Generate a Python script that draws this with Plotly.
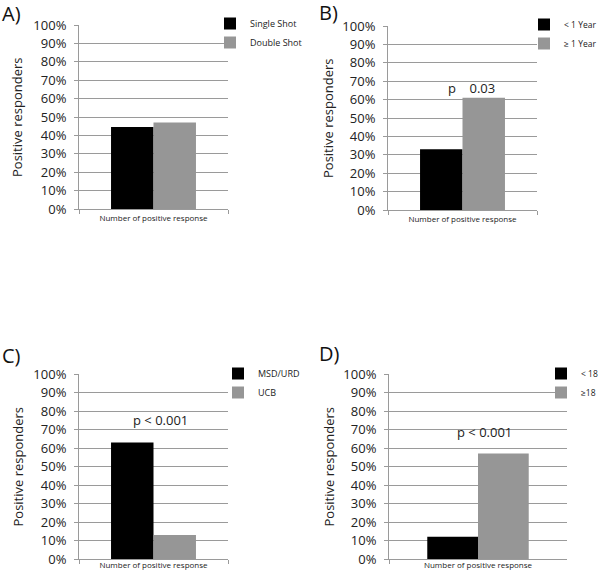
import plotly.graph_objects as go

category = ["Number of positive response"]

panel_labels = ["A)", "B)", "C)", "D)"]
series_names = [
    ["Single Shot", "Double Shot"],
    ["< 1 Year", "≥ 1 Year"],
    ["MSD/URD", "UCB"],
    ["< 18", "≥18"],
]
first_values = [0.445, 0.33, 0.63, 0.12]
second_values = [0.47, 0.61, 0.13, 0.57]
p_texts = [None, "p    0.03", "p < 0.001", "p < 0.001"]
p_levels = [None, 0.665, 0.75, 0.685]

y_tick_vals = [i / 10 for i in range(11)]
y_tick_text = [f"{i*10}%" for i in range(11)]

W, H = 600, 573

# pixel layout for each panel: (x0, x1, ytop, ybottom)
boxes = [(79, 228, 25, 209), (388, 537, 26, 210), (79, 228, 374, 559), (389, 567, 374, 559)]
label_pos = [(0, 14), (317, 12), (0, 355), (317, 353)]
ytitle_x = [17, 328, 17, 328]
legend_pos = [(210, 9), (524, 10), (218, 359), (541, 359)]
legend_font = [9, 8.5, 9, 8.5]
p_shift = [0, 9, 7, 6]

FONT = "Open Sans"
BLACK = "#000000"
GRAY = "#969696"
AXIS = "#9a9a9a"

fig = go.Figure()
layout = dict(
    width=W, height=H,
    margin=dict(l=0, r=0, t=0, b=0, autoexpand=False),
    paper_bgcolor="white", plot_bgcolor="white",
    barmode="group", bargap=0.43, bargroupgap=0,
    font=dict(family=FONT, color="#222222"),
    annotations=[],
)

for i in range(4):
    ax = "" if i == 0 else str(i + 1)
    lg = "legend" if i == 0 else f"legend{i+1}"
    x0, x1, yt, yb = boxes[i]
    fig.add_trace(go.Bar(x=category, y=[first_values[i]], name=series_names[i][0],
                         marker=dict(color=BLACK, line=dict(width=0)),
                         xaxis="x" + ax, yaxis="y" + ax, legend=lg))
    fig.add_trace(go.Bar(x=category, y=[second_values[i]], name=series_names[i][1],
                         marker=dict(color=GRAY, line=dict(width=0)),
                         xaxis="x" + ax, yaxis="y" + ax, legend=lg))
    layout["xaxis" + ax] = dict(
        domain=[x0 / W, x1 / W], anchor="y" + ax,
        showline=True, linecolor=AXIS, linewidth=1,
        ticks="outside", tickson="boundaries", ticklen=4, tickcolor=AXIS,
        ticklabelstandoff=(1 if i < 2 else -2),
        tickfont=dict(size=8, family=FONT, color="#222222"),
        showgrid=False, zeroline=False, fixedrange=True,
    )
    layout["yaxis" + ax] = dict(
        domain=[1 - yb / H, 1 - yt / H], anchor="x" + ax,
        range=[0, 1], tickvals=y_tick_vals, ticktext=y_tick_text,
        showgrid=True, gridcolor=AXIS, gridwidth=1,
        showline=True, linecolor=AXIS, linewidth=1,
        zeroline=False, ticks="outside", ticklen=4, tickcolor=AXIS,
        ticklabelstandoff=5,
        tickfont=dict(size=13, family=FONT, color="#222222"),
        fixedrange=True,
    )
    lx, ly = legend_pos[i]
    layout[lg] = dict(
        x=lx / W, y=1 - ly / H, xanchor="left", yanchor="top",
        xref="paper", yref="paper",
        font=dict(size=legend_font[i], family=FONT, color="#222222"),
        bgcolor="rgba(0,0,0,0)", borderwidth=0, itemwidth=30,
        tracegroupgap=0,
    )
    px, py = label_pos[i]
    layout["annotations"].append(dict(
        text=panel_labels[i], x=px / W, y=1 - py / H, xref="paper", yref="paper",
        xanchor="left", yanchor="middle", showarrow=False,
        font=dict(size=20, family=FONT, color="#111111")))
    cy = (yt + yb) / 2
    layout["annotations"].append(dict(
        text="Positive responders", x=ytitle_x[i] / W, y=1 - cy / H,
        xref="paper", yref="paper", textangle=-90, showarrow=False,
        xanchor="center", yanchor="middle",
        font=dict(size=13, family=FONT, color="#222222")))
    if p_texts[i]:
        layout["annotations"].append(dict(
            text=p_texts[i], x=category[0], y=p_levels[i],
            xref="x" + ax, yref="y" + ax, showarrow=False,
            xanchor="center", yanchor="middle", xshift=p_shift[i],
            font=dict(size=13, family=FONT, color="#222222")))

fig.update_layout(**layout)
fig.write_html("out.html", config={"displayModeBar": False},
               post_script="document.body.style.margin='0';")
